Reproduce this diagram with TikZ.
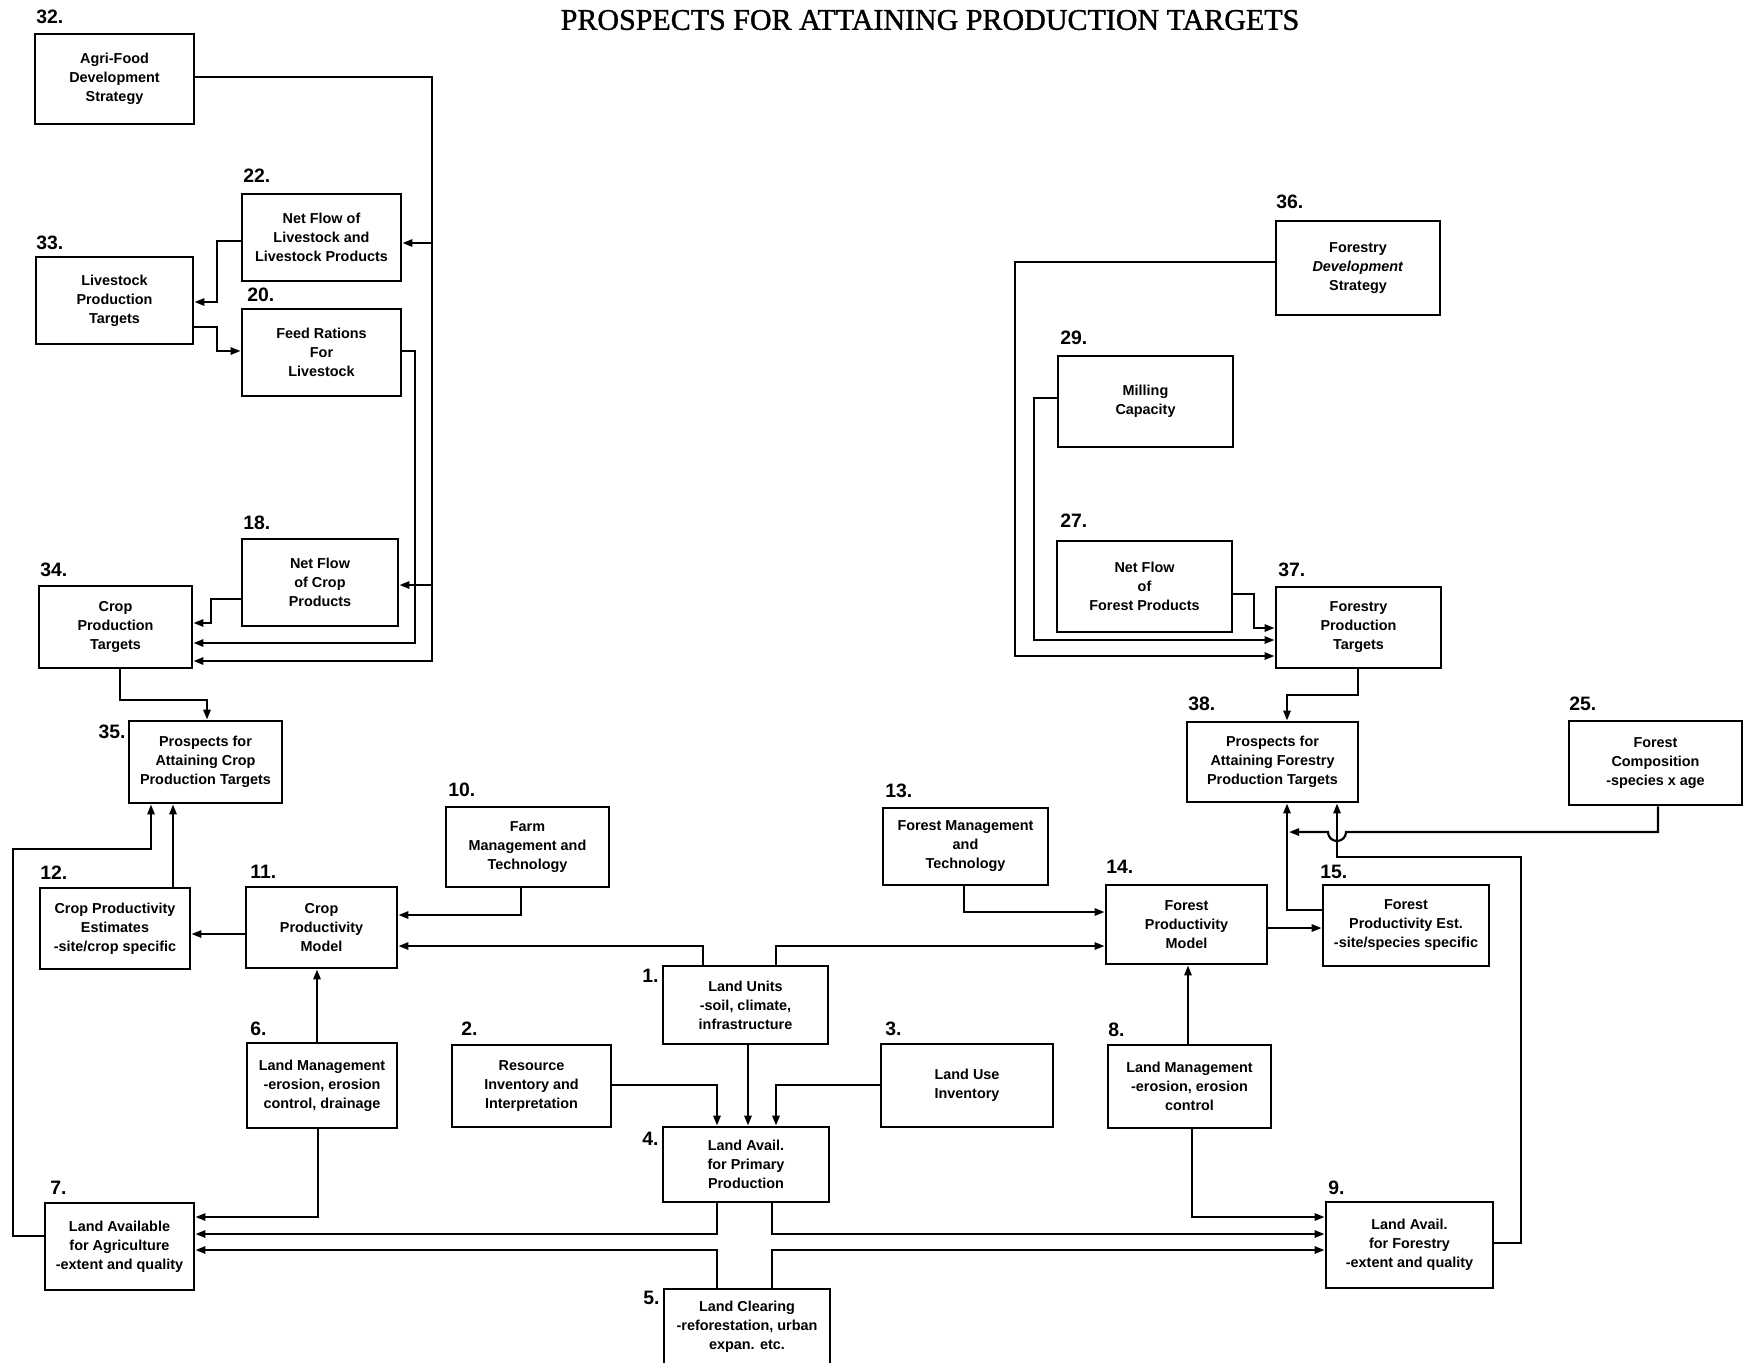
\documentclass[tikz,border=0pt]{standalone}
\usepackage{fontspec}
\setmainfont{Liberation Serif}
\setsansfont{Liberation Sans}
\newfontfamily\headfont[FakeBold=1.2]{Liberation Serif}
\usetikzlibrary{arrows.meta}

\tikzset{
  blk/.style={draw, line width=1.4pt, inner sep=0pt, align=center,
    font=\sffamily\bfseries\fontsize{7.2}{9.5}\selectfont},
  num/.style={inner sep=0pt, font=\sffamily\bfseries\fontsize{9.7}{10}\selectfont},
  link/.style={line width=1.1pt},
  arr/.style={link, -{Triangle[length=5pt,width=3.6pt]}},
}
% \boxat{name}{left}{top}{right}{bottom}{text}, coordinates in pixels, y downwards
\newcommand\boxat[6]{\node[blk, minimum width={(#4-#2)*0.5pt}, minimum height={(#5-#3)*0.5pt}]
  (#1) at ({(#2+#4)/2},{(#3+#5)/2}) {#6};}

\begin{document}
\begin{tikzpicture}[x=0.5pt,y=-0.5pt]
\fill[white] (0,0) rectangle (1743,1362);
\path[use as bounding box] (0,0) rectangle (1743,1362);

\node[font=\headfont\fontsize{15}{18}\selectfont] (title) at (930,20) {PROSPECTS FOR ATTAINING PRODUCTION TARGETS};

% ---- agriculture side ----
\boxat{b32}{35}{34}{194}{124}{Agri-Food\\Development\\Strategy}
\boxat{b22}{242}{194}{401}{281}{Net Flow of\\Livestock and\\Livestock Products}
\boxat{b33}{36}{257}{193}{344}{Livestock\\Production\\Targets}
\boxat{b20}{242}{309}{401}{396}{Feed Rations\\For\\Livestock}
\boxat{b18}{242}{539}{398}{626}{Net Flow\\of Crop\\Products}
\boxat{b34}{39}{586}{192}{668}{Crop\\Production\\Targets}
\boxat{b35}{129}{721}{282}{803}{Prospects for\\Attaining Crop\\Production Targets}
\boxat{b10}{446}{807}{609}{887}{Farm\\Management and\\Technology}
\boxat{b11}{246}{887}{397}{968}{Crop\\Productivity\\Model}
\boxat{b12}{40}{888}{190}{969}{Crop Productivity\\Estimates\\-site/crop specific}
\boxat{b6}{247}{1043}{397}{1128}{Land Management\\-erosion, erosion\\control, drainage}
\boxat{b2}{452}{1045}{611}{1127}{Resource\\Inventory and\\Interpretation}
\boxat{b7}{45}{1203}{194}{1290}{Land Available\\for Agriculture\\-extent and quality}

% ---- centre ----
\boxat{b1}{663}{966}{828}{1044}{Land Units\\-soil, climate,\\infrastructure}
\boxat{b3}{881}{1044}{1053}{1127}{Land Use\\Inventory}
\boxat{b4}{663}{1127}{829}{1202}{Land Avail.\\for Primary\\Production}
\boxat{b5}{664}{1289}{830}{1364}{Land Clearing\\-reforestation, urban\\expan. etc.}

% ---- forestry side ----
\boxat{b36}{1276}{221}{1440}{315}{Forestry\\\textit{Development}\\Strategy}
\boxat{b29}{1058}{356}{1233}{447}{Milling\\Capacity}
\boxat{b27}{1057}{541}{1232}{632}{Net Flow\\of\\Forest Products}
\boxat{b37}{1276}{587}{1441}{668}{Forestry\\Production\\Targets}
\boxat{b38}{1187}{722}{1358}{802}{Prospects for\\Attaining Forestry\\Production Targets}
\boxat{b25}{1569}{721}{1742}{805}{Forest\\Composition\\-species x age}
\boxat{b13}{883}{808}{1048}{885}{Forest Management\\and\\Technology}
\boxat{b14}{1106}{885}{1267}{964}{Forest\\Productivity\\Model}
\boxat{b15}{1323}{885}{1489}{966}{Forest\\Productivity Est.\\-site/species specific}
\boxat{b8}{1108}{1045}{1271}{1128}{Land Management\\-erosion, erosion\\control}
\boxat{b9}{1326}{1202}{1493}{1288}{Land Avail.\\for Forestry\\-extent and quality}

% ---- box numbers ----
\node[num, anchor=west] (n32) at (36,17) {32.};
\node[num, anchor=west] (n22) at (243,176) {22.};
\node[num, anchor=west] (n33) at (36,243) {33.};
\node[num, anchor=west] (n20) at (247,295) {20.};
\node[num, anchor=west] (n18) at (243,523) {18.};
\node[num, anchor=west] (n34) at (40,570) {34.};
\node[num, anchor=east] (n35) at (126,732) {35.};
\node[num, anchor=west] (n10) at (448,790) {10.};
\node[num, anchor=west] (n11) at (250,872) {11.};
\node[num, anchor=west] (n12) at (40,873) {12.};
\node[num, anchor=west] (n6) at (250,1029) {6.};
\node[num, anchor=west] (n2) at (461,1029) {2.};
\node[num, anchor=west] (n7) at (50,1188) {7.};
\node[num, anchor=east] (n1) at (659,976) {1.};
\node[num, anchor=west] (n3) at (885,1029) {3.};
\node[num, anchor=east] (n4) at (659,1139) {4.};
\node[num, anchor=east] (n5) at (660,1298) {5.};
\node[num, anchor=west] (n36) at (1276,202) {36.};
\node[num, anchor=west] (n29) at (1060,338) {29.};
\node[num, anchor=west] (n27) at (1060,521) {27.};
\node[num, anchor=west] (n37) at (1278,570) {37.};
\node[num, anchor=west] (n38) at (1188,704) {38.};
\node[num, anchor=west] (n25) at (1569,704) {25.};
\node[num, anchor=west] (n13) at (885,791) {13.};
\node[num, anchor=west] (n14) at (1106,867) {14.};
\node[num, anchor=west] (n15) at (1320,872) {15.};
\node[num, anchor=west] (n8) at (1108,1030) {8.};
\node[num, anchor=west] (n9) at (1328,1188) {9.};

% ---- connectors: livestock and crop targets ----
\draw[arr] (b32.east |- 0,77) -| (432,661) -- (b34.east |- 0,661);
\draw[arr] (432,243) -- (b22.east |- 0,243);
\draw[arr] (432,585) -- (b18.east |- 0,585);
\draw[arr] (b20.east |- 0,351) -| (415,643) -- (b34.east |- 0,643);
\draw[arr] (b22.west |- 0,241) -| (217,302) -- (b33.east |- 0,302);
\draw[arr] (b33.east |- 0,327) -| (217,351) -- (b20.west |- 0,351);
\draw[arr] (b18.west |- 0,599) -| (211,623) -- (b34.east |- 0,623);
\draw[arr] (b34.south -| 120,0) |- (207,700) -- (b35.north -| 207,0);
\draw[arr] (b7.west |- 0,1236) -| (13,849) -| (b35.south -| 151,0);
\draw[arr] (b12.north -| 173,0) -- (b35.south -| 173,0);
\draw[arr] (b11.west |- 0,934) -- (b12.east |- 0,934);
\draw[arr] (b10.south -| 521,0) |- (b11.east |- 0,915);
\draw[arr] (b1.north -| 703,0) |- (b11.east |- 0,946);
\draw[arr] (b6.north -| 317,0) -- (b11.south -| 317,0);
\draw[arr] (b6.south -| 318,0) |- (b7.east |- 0,1217);

% ---- connectors: land base ----
\draw[arr] (b4.south -| 717,0) |- (b7.east |- 0,1234);
\draw[arr] (b5.north -| 717,0) |- (b7.east |- 0,1250);
\draw[arr] (b4.south -| 772,0) |- (b9.west |- 0,1234);
\draw[arr] (b5.north -| 772,0) |- (b9.west |- 0,1250);
\draw[arr] (b2.east |- 0,1085) -| (b4.north -| 717,0);
\draw[arr] (b1.south -| 748,0) -- (b4.north -| 748,0);
\draw[arr] (b3.west |- 0,1085) -| (b4.north -| 776,0);

% ---- connectors: forestry ----
\draw[arr] (b1.north -| 776,0) |- (b14.west |- 0,946);
\draw[arr] (b13.south -| 964,0) |- (b14.west |- 0,912);
\draw[arr] (b8.north -| 1188,0) -- (b14.south -| 1188,0);
\draw[arr] (b8.south -| 1192,0) |- (b9.west |- 0,1217);
\draw[arr] (b14.east |- 0,928) -- (b15.west |- 0,928);
\draw[arr] (b15.west |- 0,910) -| (b38.south -| 1287,0);
\draw[arr] (b25.south -| 1658,0) |- (1346,832)
  arc[start angle=0, end angle=180, radius=9] -- (1289,832);
\draw[arr] (b9.east |- 0,1243) -| (1521,857) -| (b38.south -| 1337,0);
\draw[arr] (b37.south -| 1358,0) |- (1287,695) -- (b38.north -| 1287,0);
\draw[arr] (b36.west |- 0,262) -| (1015,656) -- (b37.west |- 0,656);
\draw[arr] (b29.west |- 0,398) -| (1034,640) -- (b37.west |- 0,640);
\draw[arr] (b27.east |- 0,594) -| (1254,628) -- (b37.west |- 0,628);
\end{tikzpicture}
\end{document}
